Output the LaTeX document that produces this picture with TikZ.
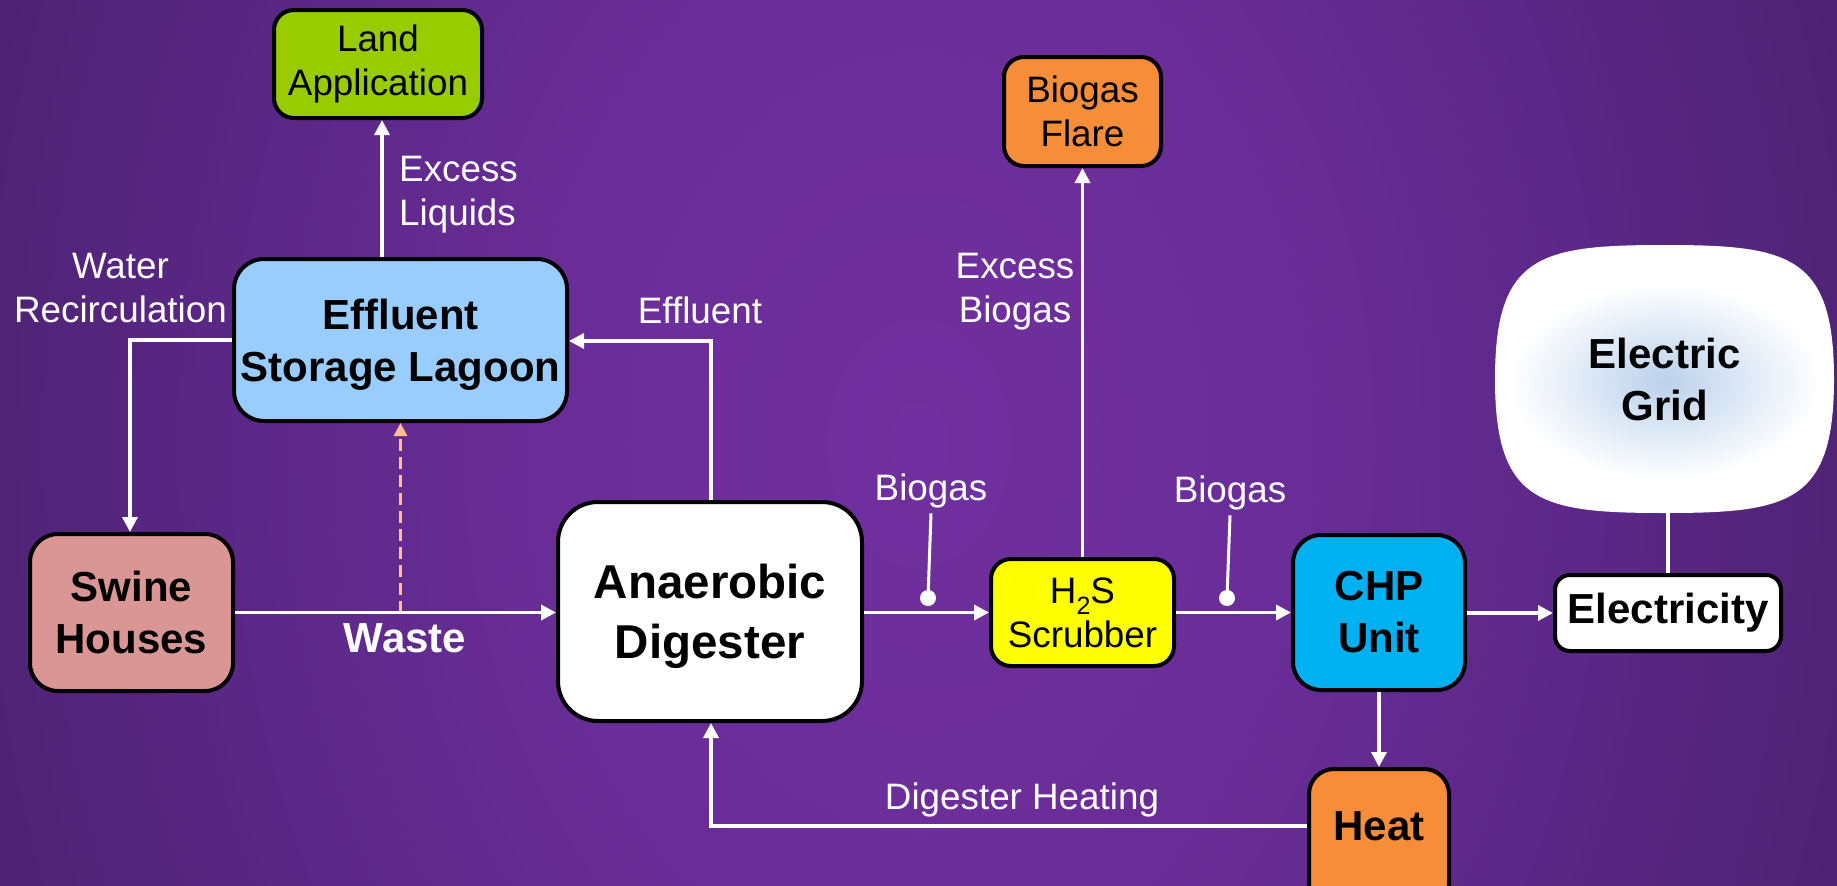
\documentclass[tikz,border=0pt]{standalone}
\usepackage{fontspec}
\setmainfont{Liberation Sans}
\usetikzlibrary{arrows.meta,calc}
\definecolor{bgA}{HTML}{70309F}
\definecolor{bgB}{HTML}{6A2D98}
\definecolor{bgC}{HTML}{5C2888}
\definecolor{bgD}{HTML}{3F1D60}
\definecolor{bgE}{HTML}{2C1645}
\definecolor{bgF}{HTML}{24123A}
\definecolor{landgreen}{HTML}{99CC00}
\definecolor{lagoonblue}{HTML}{99CCFF}
\definecolor{swinepink}{HTML}{D99694}
\definecolor{chpblue}{HTML}{00B0F0}
\definecolor{scrubyellow}{HTML}{FFFF00}
\definecolor{flareorange}{HTML}{F68D38}
\definecolor{peach}{HTML}{FAC090}
\definecolor{glowblue}{HTML}{BBD1EC}
\pgfdeclareradialshading{bgshade}{\pgfpoint{0bp}{0bp}}{color(0bp)=(bgA); color(10bp)=(bgB); color(18bp)=(bgC); color(34bp)=(bgD); color(47bp)=(bgE); color(55bp)=(bgF); color(100bp)=(bgF)}
\newcommand{\myreg}{\fontsize{36.8pt}{44pt}\selectfont}
\newcommand{\mybold}{\fontsize{42pt}{52pt}\selectfont\bfseries}
\newcommand{\mybig}{\fontsize{47.5pt}{60pt}\selectfont\bfseries}
\begin{document}
\begin{tikzpicture}[x=1pt,y=-1pt,
  box/.style={draw=black, line width=4pt, align=center, inner sep=0pt, text=black},
  conn/.style={draw=white, line width=3.5pt},
  arr/.style={conn, -{Triangle[length=15pt,width=15pt]}},
  dasharr/.style={draw=peach, line width=3pt, dash pattern=on 12pt off 6pt, -{Triangle[length=13pt,width=13pt]}},
  lbl/.style={text=white, font=\myreg, align=center, inner sep=0pt},
  lead/.style={draw=white, line width=3pt},
]
\useasboundingbox (0,0) rectangle (1837,886);
\begin{scope}
  \clip (0,0) rectangle (1837,886);
  \shade[shading=bgshade] (0,-800) rectangle (1837,1686);
\end{scope}

% Electric grid cloud
\fill[white] (1495,379) .. controls (1495,255) and (1540,245) .. (1664.5,245)
  .. controls (1789,245) and (1834,255) .. (1834,379)
  .. controls (1834,503) and (1789,513) .. (1664.5,513)
  .. controls (1540,513) and (1495,503) .. (1495,379) -- cycle;
\shade[inner color=glowblue, outer color=white] (1665,382) ellipse [x radius=155pt, y radius=98pt];
\node[minimum width=339pt, minimum height=268pt, inner sep=0pt, align=center, font=\mybold] (grid) at (1664.5,379) {Electric\\Grid};

% boxes
\node[box, fill=landgreen, font=\myreg, minimum width=208pt, minimum height=108pt, rounded corners=20pt] (land) at (378,64) {Land\\Application};
\node[box, fill=lagoonblue, font=\mybold, minimum width=333pt, minimum height=162pt, rounded corners=30pt, text depth=0pt] (lagoon) at (400.5,340) {Effluent\\Storage Lagoon};
\node[box, fill=swinepink, font=\mybold, minimum width=203pt, minimum height=157pt, rounded corners=28pt] (swine) at (131.5,612.5) {Swine\\Houses};
\node[box, fill=white, font=\mybig, minimum width=304pt, minimum height=219pt, rounded corners=40pt, text depth=0pt] (digester) at (710,611.5) {Anaerobic\\Digester};
\node[box, fill=scrubyellow, font=\myreg, minimum width=183pt, minimum height=107pt, rounded corners=20pt] (scrubber) at (1082.5,612.5) {H\raisebox{-0.3em}{\fontsize{25pt}{25pt}\selectfont 2}S\\Scrubber};
\node[box, fill=chpblue, font=\mybold, minimum width=172pt, minimum height=155pt, rounded corners=28pt] (chp) at (1379,612.5) {CHP\\Unit};
\node[box, fill=white, font=\mybold, minimum width=226pt, minimum height=76pt, rounded corners=15pt] (elec) at (1668,613) {Electricity};
\node[box, fill=flareorange, font=\myreg, minimum width=157pt, minimum height=109pt, rounded corners=20pt] (flare) at (1082.5,111.5) {Biogas\\Flare};
\node[box, fill=flareorange, font=\mybold, minimum width=140pt, minimum height=140pt, rounded corners=25pt, inner ysep=0pt, text height=71pt, text depth=69pt, anchor=north] (heat) at (1379,767) {Heat};

% coordinates
\coordinate (xland) at (382,0);
\coordinate (wr) at (130,340);
\coordinate (eff) at (711,341);
\coordinate (dh) at (711,826);
\coordinate (dot1) at (928,598);
\coordinate (dot2) at (1227,598);

% connectors
\draw[arr] (lagoon.north -| xland) -- (land.south -| xland);
\draw[arr] (lagoon.west) -- (wr) -- (wr |- swine.north);
\draw[dasharr] (lagoon.south |- swine.east) -- (lagoon.south);
\draw[arr] (swine.east) -- (swine.east -| digester.west);
\draw[arr] (digester.north -| eff) -- (eff) -- (eff -| lagoon.east);
\draw[arr] (scrubber.west -| digester.east) -- (scrubber.west);
\draw[arr] (scrubber.east) -- (chp.west);
\draw[arr] (scrubber.north) -- (flare.south);
\draw[arr] (elec.west -| chp.east) -- (elec.west);
\draw[conn] (elec.north) -- (elec.north |- grid.south);
\draw[arr] (chp.south) -- (chp.south |- heat.north);
\draw[arr] (heat.west |- dh) -- (dh) -- (dh |- digester.south);

% labels
\node[lbl, anchor=west, align=left] (lblexl) at (399,195) {Excess\\Liquids};
\node[lbl] (lblwr) at (120.5,288) {Water\\Recirculation};
\node[lbl, font=\mybold] (lblwaste) at (405,638) {Waste};
\node[lbl] (lbleff) at (700,310) {Effluent};
\node[lbl] (lblbg1) at (931,491) {Biogas};
\node[lbl] (lblbg2) at (1230,493) {Biogas};
\node[lbl] (lblexb) at (1015,292) {Excess\\Biogas};
\node[lbl] (lbldh) at (1022,800) {Digester Heating};

% leaders with dots
\draw[lead] ([yshift=-5pt]lblbg1.south) -- (dot1);
\fill[white] (dot1) circle[radius=8pt];
\draw[lead] ([yshift=-5pt]lblbg2.south) -- (dot2);
\fill[white] (dot2) circle[radius=8pt];
\end{tikzpicture}
\end{document}
